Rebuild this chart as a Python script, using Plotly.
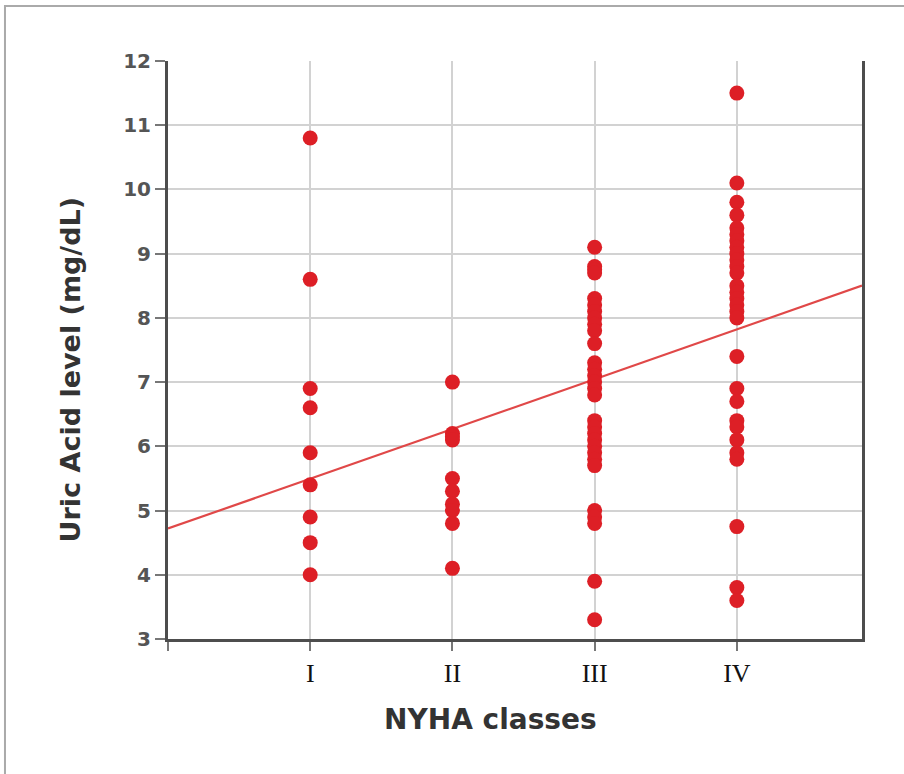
import plotly.graph_objects as go

# ---- data ----
class_positions = [1, 2, 3, 4]
class_labels = ["I", "II", "III", "IV"]

class_I = [10.8, 8.6, 6.9, 6.6, 5.9, 5.4, 4.9, 4.5, 4.0]
class_II = [7.0, 6.2, 6.15, 6.1, 5.5, 5.3, 5.1, 5.0, 4.8, 4.1]
class_III = [9.1, 8.8, 8.75, 8.7, 8.3, 8.2, 8.1, 8.0, 7.9, 7.8, 7.6,
             7.3, 7.2, 7.1, 7.0, 6.9, 6.8, 6.4, 6.3, 6.2, 6.1, 6.0,
             5.9, 5.8, 5.7, 5.0, 4.9, 4.8, 3.9, 3.3]
class_IV = [11.5, 10.1, 9.8, 9.6, 9.4, 9.3, 9.2, 9.1, 9.0, 8.9, 8.8,
            8.7, 8.5, 8.4, 8.3, 8.2, 8.1, 8.0, 7.4, 6.9, 6.7, 6.4,
            6.3, 6.1, 5.9, 5.8, 4.75, 3.8, 3.6]

fit_intercept = 4.72
fit_slope = 0.775

y_ticks = [3, 4, 5, 6, 7, 8, 9, 10, 11, 12]
x_range = [0, 4.88]
y_range = [3, 12]

groups = [class_I, class_II, class_III, class_IV]
xs, ys = [], []
for pos, vals in zip(class_positions, groups):
    xs += [pos] * len(vals)
    ys += vals

fig = go.Figure()
fig.add_trace(go.Scatter(
    x=x_range,
    y=[fit_intercept + fit_slope * v for v in x_range],
    mode="lines",
    line=dict(color="#e04848", width=2.2),
    showlegend=False, hoverinfo="skip",
))
fig.add_trace(go.Scatter(
    x=xs, y=ys, mode="markers",
    marker=dict(size=15, color="#dd1f26", line=dict(width=0)),
    showlegend=False,
))

fig.update_xaxes(
    range=x_range,
    tickmode="array",
    tickvals=[0] + class_positions,
    ticktext=[""] + class_labels,
    ticks="outside", ticklen=9, tickwidth=2, tickcolor="#777",
    tickfont=dict(family="Liberation Serif", size=26, color="#111"),
    showgrid=True, gridcolor="#d2d2d2", gridwidth=2,
    showline=True, linecolor="#4d4d4d", linewidth=3,
    zeroline=False,
)
fig.update_yaxes(
    range=y_range,
    tickmode="array", tickvals=y_ticks,
    ticks="outside", ticklen=10, tickwidth=2, tickcolor="#777",
    tickfont=dict(family="DejaVu Sans", size=20, color="#555", weight="bold"),
    showgrid=True, gridcolor="#d2d2d2", gridwidth=2,
    showline=True, linecolor="#4d4d4d", linewidth=3, mirror=True,
    zeroline=False,
)

fig.update_layout(
    width=904, height=774,
    margin=dict(l=168, r=42, t=61, b=135),
    paper_bgcolor="white", plot_bgcolor="white",
    annotations=[
        dict(text="<b>Uric Acid level (mg/dL)</b>", xref="paper", yref="paper",
             x=-0.141, y=0.465, textangle=-90, showarrow=False,
             xanchor="center", yanchor="middle",
             font=dict(family="DejaVu Sans", size=27, color="#333")),
        dict(text="<b>NYHA classes</b>", xref="paper", yref="paper",
             x=0.464, y=-0.140, showarrow=False,
             xanchor="center", yanchor="middle",
             font=dict(family="DejaVu Sans", size=28, color="#333")),
    ],
    shapes=[
        dict(type="rect", xref="paper", yref="paper",
             x0=-0.2349, x1=1.08, y0=-0.26, y1=1.0952,
             line=dict(color="#aaaaaa", width=2), layer="below"),
    ],
)

fig.write_html("out.html", config={"displayModeBar": False},
               post_script="document.body.style.margin='0px';")
